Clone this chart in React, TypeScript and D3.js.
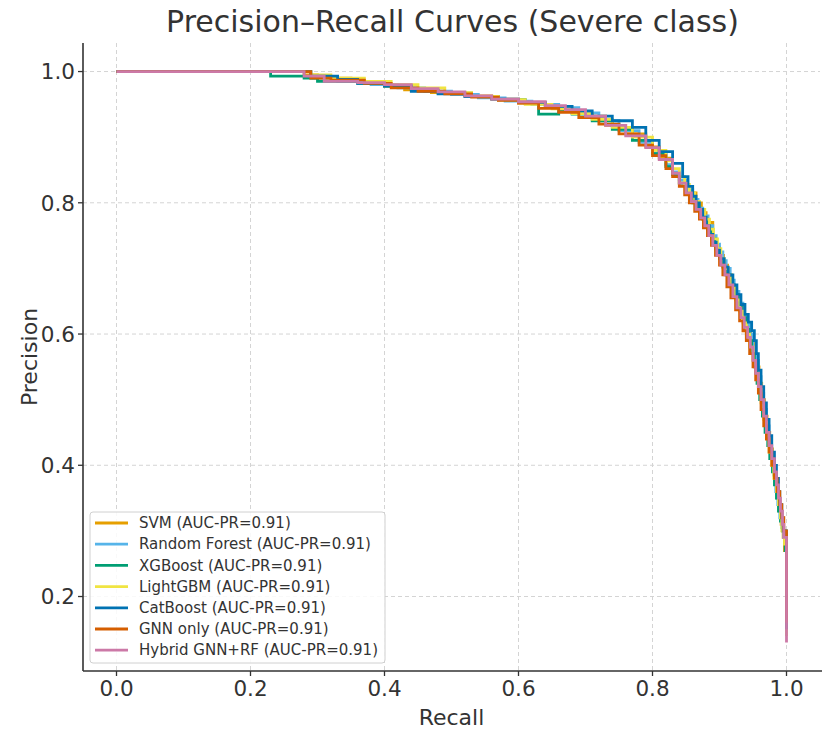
import * as d3 from "d3";
import React from "react";

// recall / precision pairs
const svm: [number, number][] = [
  [0, 1], [0.27, 1], [0.28, 0.995], [0.3, 0.99], [0.35, 0.985], [0.4, 0.978], [0.43, 0.972], [0.47, 0.968],
  [0.52, 0.963], [0.56, 0.958], [0.6, 0.952], [0.64, 0.946], [0.67, 0.94], [0.7, 0.932], [0.73, 0.918],
  [0.76, 0.905], [0.79, 0.885], [0.81, 0.868], [0.83, 0.845], [0.84, 0.83], [0.85, 0.815], [0.865, 0.8],
  [0.873, 0.785], [0.88, 0.77], [0.89, 0.745], [0.895, 0.732], [0.9, 0.72], [0.906, 0.705], [0.912, 0.69],
  [0.918, 0.672], [0.925, 0.655], [0.931, 0.638], [0.937, 0.62], [0.942, 0.605], [0.946, 0.59], [0.951, 0.57],
  [0.955, 0.55], [0.959, 0.525], [0.963, 0.5], [0.967, 0.475], [0.971, 0.45], [0.975, 0.425], [0.979, 0.4],
  [0.983, 0.375], [0.986, 0.35], [0.989, 0.33], [0.992, 0.31], [0.995, 0.29], [0.997, 0.27], [1.0, 0.25], [1.0, 0.15],
];
const randomForest: [number, number][] = [
  [0, 1], [0.27, 1], [0.29, 0.99], [0.33, 0.985], [0.38, 0.98], [0.42, 0.975], [0.46, 0.97], [0.5, 0.965],
  [0.54, 0.96], [0.58, 0.955], [0.62, 0.95], [0.66, 0.945], [0.69, 0.937], [0.72, 0.925], [0.75, 0.91],
  [0.78, 0.892], [0.8, 0.876], [0.82, 0.858], [0.83, 0.847], [0.84, 0.835], [0.85, 0.82], [0.86, 0.805],
  [0.868, 0.792], [0.875, 0.78], [0.883, 0.765], [0.89, 0.75], [0.895, 0.737], [0.9, 0.725], [0.905, 0.712],
  [0.91, 0.7], [0.916, 0.682], [0.922, 0.665], [0.929, 0.647], [0.935, 0.63], [0.94, 0.615], [0.945, 0.6],
  [0.95, 0.58], [0.954, 0.56], [0.958, 0.535], [0.962, 0.51], [0.966, 0.485], [0.97, 0.46], [0.974, 0.435],
  [0.977, 0.41], [0.981, 0.385], [0.984, 0.36], [0.987, 0.34], [0.99, 0.32], [0.993, 0.305], [0.996, 0.29],
  [1.0, 0.26], [1.0, 0.14],
];
const xgboost: [number, number][] = [
  [0, 1], [0.225, 1], [0.23, 0.993], [0.28, 0.99], [0.3, 0.985], [0.36, 0.982], [0.4, 0.978], [0.44, 0.972],
  [0.48, 0.967], [0.53, 0.962], [0.57, 0.957], [0.61, 0.952], [0.63, 0.935], [0.66, 0.94], [0.68, 0.935],
  [0.71, 0.925], [0.74, 0.912], [0.77, 0.895], [0.8, 0.875], [0.82, 0.855], [0.83, 0.843], [0.84, 0.83],
  [0.85, 0.815], [0.86, 0.8], [0.868, 0.788], [0.875, 0.775], [0.882, 0.76], [0.888, 0.745], [0.894, 0.73],
  [0.9, 0.715], [0.905, 0.702], [0.91, 0.69], [0.916, 0.675], [0.922, 0.66], [0.928, 0.642], [0.934, 0.625],
  [0.939, 0.607], [0.944, 0.59], [0.948, 0.57], [0.952, 0.55], [0.956, 0.525], [0.96, 0.5], [0.964, 0.475],
  [0.968, 0.45], [0.972, 0.43], [0.975, 0.41], [0.979, 0.39], [0.982, 0.37], [0.985, 0.35], [0.988, 0.33],
  [0.991, 0.315], [0.994, 0.3], [0.998, 0.27], [1.0, 0.25], [1.0, 0.14],
];
const lightgbm: [number, number][] = [
  [0, 1], [0.27, 1], [0.29, 0.995], [0.32, 0.99], [0.37, 0.985], [0.41, 0.98], [0.45, 0.975], [0.49, 0.968],
  [0.53, 0.962], [0.57, 0.957], [0.61, 0.95], [0.65, 0.943], [0.68, 0.936], [0.71, 0.927], [0.74, 0.915],
  [0.77, 0.9], [0.8, 0.88], [0.82, 0.864], [0.83, 0.852], [0.84, 0.84], [0.848, 0.828], [0.855, 0.815],
  [0.863, 0.802], [0.87, 0.79], [0.878, 0.775], [0.885, 0.76], [0.891, 0.745], [0.897, 0.73], [0.902, 0.715],
  [0.907, 0.7], [0.913, 0.685], [0.918, 0.67], [0.924, 0.652], [0.93, 0.635], [0.935, 0.617], [0.94, 0.6],
  [0.945, 0.58], [0.95, 0.56], [0.954, 0.54], [0.958, 0.52], [0.962, 0.495], [0.966, 0.47], [0.97, 0.445],
  [0.974, 0.42], [0.978, 0.4], [0.981, 0.38], [0.985, 0.36], [0.988, 0.34], [0.991, 0.32], [0.993, 0.3],
  [0.997, 0.28], [1.0, 0.26], [1.0, 0.14],
];
const catboost: [number, number][] = [
  [0, 1], [0.27, 1], [0.29, 0.993], [0.33, 0.988], [0.36, 0.982], [0.4, 0.978], [0.44, 0.97], [0.48, 0.966],
  [0.52, 0.962], [0.56, 0.958], [0.6, 0.953], [0.64, 0.947], [0.68, 0.94], [0.71, 0.932], [0.74, 0.925],
  [0.77, 0.915], [0.79, 0.895], [0.81, 0.878], [0.83, 0.86], [0.845, 0.84], [0.853, 0.825], [0.86, 0.81],
  [0.865, 0.8], [0.87, 0.79], [0.875, 0.778], [0.88, 0.765], [0.885, 0.752], [0.89, 0.74], [0.895, 0.728],
  [0.9, 0.715], [0.907, 0.702], [0.913, 0.69], [0.92, 0.675], [0.926, 0.66], [0.932, 0.645], [0.938, 0.63],
  [0.943, 0.618], [0.948, 0.605], [0.952, 0.59], [0.955, 0.57], [0.958, 0.545], [0.962, 0.52], [0.966, 0.495],
  [0.97, 0.47], [0.974, 0.445], [0.978, 0.42], [0.982, 0.4], [0.985, 0.38], [0.988, 0.36], [0.99, 0.34],
  [0.993, 0.32], [0.995, 0.3], [1.0, 0.27], [1.0, 0.15],
];
const gnnOnly: [number, number][] = [
  [0, 1], [0.28, 1], [0.29, 0.99], [0.32, 0.987], [0.37, 0.982], [0.41, 0.975], [0.45, 0.97], [0.49, 0.966],
  [0.53, 0.961], [0.57, 0.956], [0.6, 0.952], [0.63, 0.944], [0.66, 0.938], [0.69, 0.93], [0.72, 0.92],
  [0.75, 0.905], [0.78, 0.888], [0.8, 0.872], [0.82, 0.852], [0.83, 0.84], [0.84, 0.825], [0.848, 0.812],
  [0.855, 0.8], [0.863, 0.787], [0.87, 0.775], [0.876, 0.762], [0.882, 0.75], [0.888, 0.735], [0.894, 0.72],
  [0.9, 0.705], [0.905, 0.69], [0.911, 0.672], [0.917, 0.655], [0.924, 0.637], [0.93, 0.62], [0.935, 0.605],
  [0.94, 0.59], [0.945, 0.57], [0.95, 0.55], [0.954, 0.53], [0.958, 0.51], [0.962, 0.485], [0.966, 0.46],
  [0.97, 0.44], [0.974, 0.42], [0.978, 0.4], [0.982, 0.38], [0.986, 0.36], [0.99, 0.34], [0.993, 0.32],
  [0.996, 0.3], [1.0, 0.28], [1.0, 0.16],
];
const hybrid: [number, number][] = [
  [0, 1], [0.27, 1], [0.28, 0.993], [0.31, 0.985], [0.36, 0.983], [0.4, 0.98], [0.44, 0.974], [0.48, 0.969],
  [0.52, 0.963], [0.56, 0.958], [0.6, 0.954], [0.64, 0.948], [0.67, 0.942], [0.7, 0.932], [0.73, 0.918],
  [0.76, 0.902], [0.79, 0.884], [0.81, 0.866], [0.83, 0.845], [0.84, 0.83], [0.85, 0.815], [0.858, 0.802],
  [0.865, 0.79], [0.872, 0.777], [0.878, 0.765], [0.884, 0.75], [0.89, 0.735], [0.896, 0.72], [0.902, 0.705],
  [0.908, 0.69], [0.914, 0.675], [0.92, 0.657], [0.926, 0.64], [0.932, 0.625], [0.937, 0.61], [0.942, 0.595],
  [0.946, 0.58], [0.95, 0.56], [0.954, 0.54], [0.958, 0.52], [0.962, 0.5], [0.966, 0.475], [0.97, 0.45],
  [0.974, 0.43], [0.978, 0.41], [0.982, 0.39], [0.985, 0.37], [0.988, 0.35], [0.991, 0.33], [0.994, 0.31],
  [0.996, 0.29], [1.0, 0.27], [1.0, 0.13],
];

const names = ["SVM", "Random Forest", "XGBoost", "LightGBM", "CatBoost", "GNN only", "Hybrid GNN+RF"];
const aucs = [0.91, 0.91, 0.91, 0.91, 0.91, 0.91, 0.91];
const colors = ["#E69F00", "#56B4E9", "#009E73", "#F0E442", "#0072B2", "#D55E00", "#CC79A7"];
const curves = [svm, randomForest, xgboost, lightgbm, catboost, gnnOnly, hybrid];

const xTicks = [0, 0.2, 0.4, 0.6, 0.8, 1.0];
const yTicks = [0.2, 0.4, 0.6, 0.8, 1.0];

const W = 822;
const H = 730;
const left = 83, right = 820, top = 43, bottom = 671;
const font = "DejaVu Sans, sans-serif";

export default function App() {
  const x = d3.scaleLinear().domain([-0.05, 1.05]).range([left, right]);
  const y = d3.scaleLinear().domain([0.0865, 1.0435]).range([bottom, top]);
  const line = d3.line<[number, number]>()
    .x(d => x(d[0]))
    .y(d => y(d[1]))
    .curve(d3.curveStepAfter);

  const legX = 90, legY = 512, rowH = 21.2;

  return (
    <svg width={W} height={H} style={{ position: "absolute", left: 0, top: 0, background: "#fff" }}
      fontFamily={font}>
      <rect width={W} height={H} fill="#fff" />
      <text x={(left + right) / 2 + 1} y={32} textAnchor="middle" fontSize={30} fill="#333">
        Precision–Recall Curves (Severe class)
      </text>

      {/* grid */}
      {xTicks.map(t => (
        <line key={"gx" + t} x1={x(t)} x2={x(t)} y1={top} y2={bottom}
          stroke="#d4d4d4" strokeWidth={1} strokeDasharray="4,3" />
      ))}
      {yTicks.map(t => (
        <line key={"gy" + t} x1={left} x2={right} y1={y(t)} y2={y(t)}
          stroke="#d4d4d4" strokeWidth={1} strokeDasharray="4,3" />
      ))}

      {/* curves */}
      <g fill="none" strokeWidth={2.8} strokeLinejoin="miter">
        {curves.map((c, i) => (
          <path key={names[i]} d={line(c) || ""} stroke={colors[i]} />
        ))}
      </g>

      {/* spines + ticks */}
      <line x1={left} x2={left} y1={top} y2={bottom} stroke="#333" strokeWidth={1.6} />
      <line x1={left} x2={W} y1={bottom} y2={bottom} stroke="#333" strokeWidth={1.6} />
      {xTicks.map(t => (
        <g key={"xt" + t}>
          <line x1={x(t)} x2={x(t)} y1={bottom} y2={bottom + 5} stroke="#333" strokeWidth={1.3} />
          <text x={x(t)} y={bottom + 25} textAnchor="middle" fontSize={21.5} fill="#333">
            {d3.format(".1f")(t)}
          </text>
        </g>
      ))}
      {yTicks.map(t => (
        <g key={"yt" + t}>
          <line x1={left - 5} x2={left} y1={y(t)} y2={y(t)} stroke="#333" strokeWidth={1.3} />
          <text x={left - 8} y={y(t)} dy="0.36em" textAnchor="end" fontSize={21.5} fill="#333">
            {d3.format(".1f")(t)}
          </text>
        </g>
      ))}
      <text x={(left + right) / 2} y={725} textAnchor="middle" fontSize={22} fill="#333">Recall</text>
      <text transform={`translate(37,${(top + bottom) / 2}) rotate(-90)`} textAnchor="middle" fontSize={22} fill="#333">
        Precision
      </text>

      {/* legend */}
      <rect x={legX} y={legY} width={295} height={151} rx={3} fill="#fff" fillOpacity={0.85}
        stroke="#d0d0d0" strokeWidth={1} />
      {names.map((n, i) => (
        <g key={"lg" + n} transform={`translate(0,${legY + 11 + i * rowH})`}>
          <line x1={95} x2={128} y1={0} y2={0} stroke={colors[i]} strokeWidth={2.8} />
          <text x={139} y={0} dy="0.35em" fontSize={15} fill="#333">
            {`${n} (AUC-PR=${aucs[i].toFixed(2)})`}
          </text>
        </g>
      ))}
    </svg>
  );
}
